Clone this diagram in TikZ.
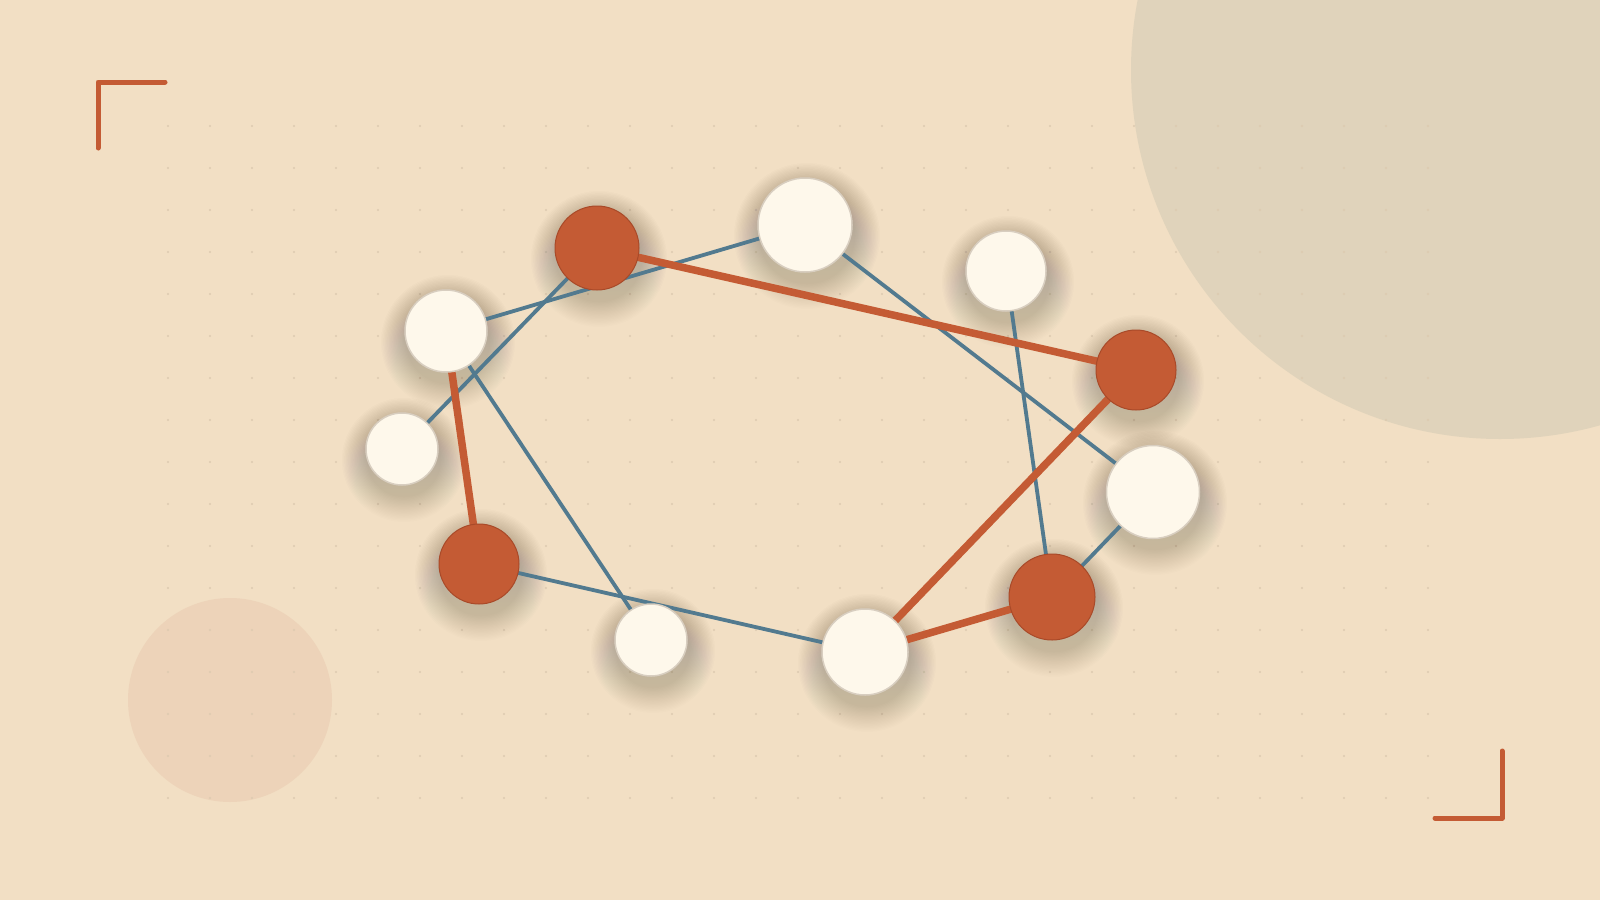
\documentclass[tikz,border=0pt]{standalone}
\usetikzlibrary{calc}
\definecolor{bgc}{HTML}{F2DFC4}
\definecolor{bigc}{HTML}{E0D3BB}
\definecolor{peach}{HTML}{EDD3B9}
\definecolor{rust}{HTML}{C45B34}
\definecolor{rustdark}{HTML}{A94A29}
\definecolor{steel}{HTML}{527A8F}
\definecolor{cream}{HTML}{FEF8EB}
\definecolor{creamrim}{HTML}{D8CEC0}
\definecolor{dotc}{HTML}{DDCAB0}
\definecolor{shade}{HTML}{A27645}
\pgfdeclarelayer{bg}
\pgfsetlayers{bg,main}
\newcommand\nodeshadow[2]{%
  \foreach \k in {0,...,19}{\fill[shade, opacity=0.008] ($(#1)+(2,11)$) circle[radius=#2+26-1.3*\k];}%
}
\begin{document}
\begin{tikzpicture}[x=1pt,y=-1pt,
  hub/.style={circle, inner sep=0pt, fill=rust, draw=rustdark, line width=1pt, minimum size=#1},
  leaf/.style={circle, inner sep=0pt, fill=cream, draw=creamrim, line width=1.5pt, minimum size=#1},
  strong/.style={draw=rust, line width=7.5pt},
  weak/.style={draw=steel, line width=3.8pt},
  bracket/.style={draw=rust, line width=5pt, line cap=round, line join=round}]
\useasboundingbox (0,0) rectangle (1600,900);

\node[hub=84pt]  (A) at (597,248) {};
\node[leaf=94pt] (B) at (805,225) {};
\node[leaf=80pt] (C) at (1006,271) {};
\node[hub=80pt]  (D) at (1136,370) {};
\node[leaf=93pt] (E) at (1153,492) {};
\node[hub=86pt]  (F) at (1052,597) {};
\node[leaf=86pt] (G) at (865,652) {};
\node[leaf=72pt] (H) at (651,640) {};
\node[hub=80pt]  (I) at (479,564) {};
\node[leaf=72pt] (J) at (402,449) {};
\node[leaf=82pt] (K) at (446,331) {};

\begin{pgfonlayer}{bg}
  \fill[bgc] (0,0) rectangle (1600,900);
  \fill[bigc] (1500,70) circle[radius=369];
  \fill[peach] (230,700) circle[radius=102];
  \foreach \i in {0,...,30}{\foreach \j in {0,...,16}{\fill[dotc] (168+42*\i,126+42*\j) circle[radius=1.2];}}
  \draw[bracket] (165,82) -- (98,82) -- (98,148);
  \draw[bracket] (1435,818) -- (1502,818) -- (1502,751);
  \nodeshadow{A}{42}
  \nodeshadow{B}{47}
  \nodeshadow{C}{40}
  \nodeshadow{D}{40}
  \nodeshadow{E}{46}
  \nodeshadow{F}{43}
  \nodeshadow{G}{43}
  \nodeshadow{H}{36}
  \nodeshadow{I}{40}
  \nodeshadow{J}{36}
  \nodeshadow{K}{41}
  \draw[weak] (K.center) -- (B.center);
  \draw[weak] (J.center) -- (A.center);
  \draw[weak] (K.center) -- (H.center);
  \draw[weak] (I.center) -- (G.center);
  \draw[weak] (B.center) -- (E.center);
  \draw[weak] (C.center) -- (F.center);
  \draw[weak] (E.center) -- (F.center);
  \draw[strong] (A.center) -- (D.center);
  \draw[strong] (K.center) -- (I.center);
  \draw[strong] (D.center) -- (G.center);
  \draw[strong] (G.center) -- (F.center);
\end{pgfonlayer}
\end{tikzpicture}
\end{document}
